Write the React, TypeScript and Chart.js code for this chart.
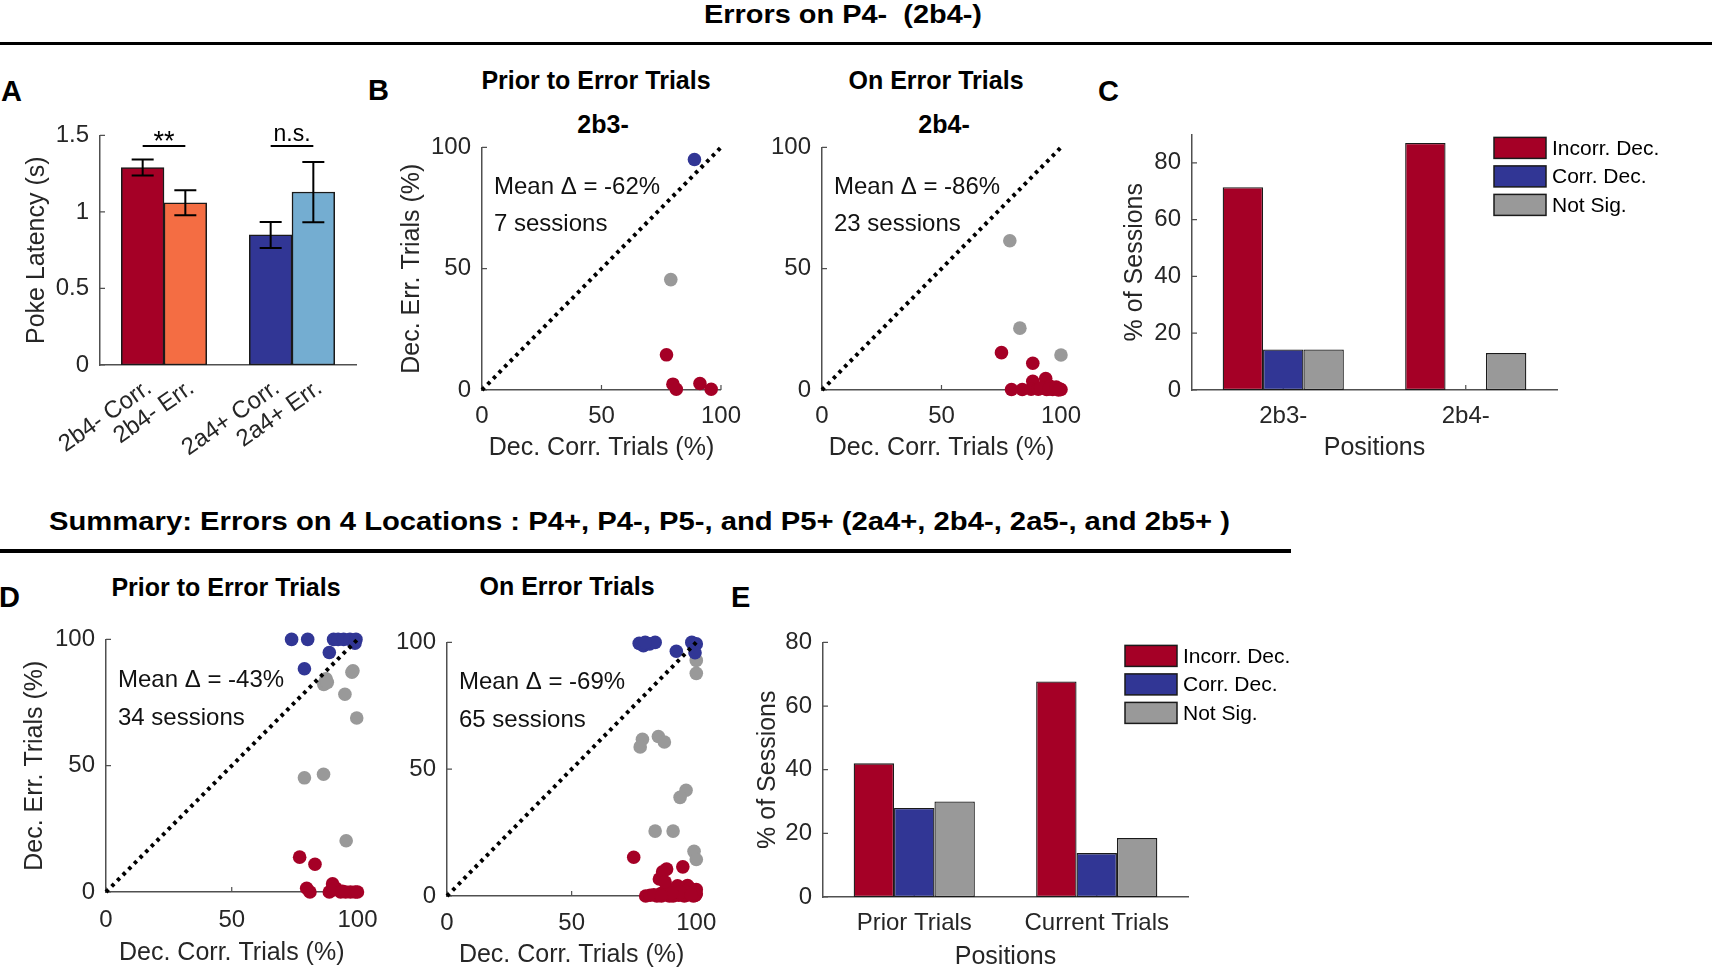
import React, { useEffect, useRef } from "react";
import { Chart, registerables } from "chart.js";

Chart.register(...registerables);

const FONT = '"Liberation Sans", Arial, Helvetica, sans-serif';
Chart.defaults.font.family = FONT;
Chart.defaults.color = "#262626";

const RED = "#A50026";
const ORANGE = "#F46D43";
const BLUE = "#313695";
const LIGHT_BLUE = "#74ADD1";
const GRAY = "#999999";
const AXIS = "#505050";
const INK = "#262626";
const EDGE = "#1a1a1a";

const TICK_SIZE = 24;
const LABEL_SIZE = 25;

// ---------------- Panel A: poke latency ----------------
const aGroups = ["2b4-", "2a4+"];
const aConditions = ["Corr.", "Err."];
const aCorrMean = [1.29, 0.85];
const aErrMean = [1.06, 1.13];
const aCorrSem = [0.052, 0.085];
const aErrSem = [0.082, 0.197];
const aSigLabels = ["**", "n.s."];
const aSigLevel = [1.43, 1.43];

// ---------------- Panel B: scatter (x = Dec. Corr., y = Dec. Err.) ----------------
const bTitles = ["2b3-", "2b4-"];
const bMeanDelta = [-62, -86];
const bSessions = [7, 23];
const bPriorIncorr = [[77.2, 14.5], [79.9, 2.4], [81.3, 0.3], [91.2, 2.7], [95.9, 0.3]];
const bPriorCorr = [[88.9, 95.0]];
const bPriorNotSig = [[79.0, 45.5]];
const bOnIncorr = [
  [75.1, 15.4], [88.2, 11.0], [79.3, 0.2], [83.8, 0.2], [88.2, 3.6], [87.5, 0.3], [90.5, 0.3],
  [93.6, 4.7], [92.5, 1.0], [94.0, 0.2], [95.5, 1.5], [96.5, 0.2], [97.5, 0.8], [98.6, 0.3],
  [99.5, 0.4], [100, 0.2], [91.5, 0.8], [95.0, 0.4], [98.0, 1.2], [99.0, 0.0],
];
const bOnCorr: number[][] = [];
const bOnNotSig = [[78.6, 61.5], [82.8, 25.5], [100, 14.4]];

// ---------------- Panel C ----------------
const cPositions = ["2b3-", "2b4-"];
const cIncorr = [71.4, 87.0];
const cCorr = [14.3, 0];
const cNotSig = [14.3, 13.0];

// ---------------- Panel D: summary scatter ----------------
const dMeanDelta = [-43, -69];
const dSessions = [34, 65];
const dPriorIncorr = [
  [77.0, 13.8], [83.1, 11.0], [79.8, 1.5], [81.1, 0], [88.8, 0], [90.1, 3.2], [91.4, 1.5],
  [93.3, 0], [95.3, 0], [97.2, 0], [99.1, 0], [100, 0], [89.5, 0.5], [94.0, 0.3],
];
const dPriorCorr = [
  [73.8, 100], [80.2, 100], [78.9, 88.4], [88.8, 94.8], [90.5, 100], [92.3, 100], [94.5, 100],
  [97.0, 100], [99.4, 100], [99.0, 98.5],
];
const dPriorNotSig = [
  [87.5, 84.4], [86.6, 82.2], [98.2, 87.6], [95.0, 78.3], [99.7, 68.9], [78.9, 45.2], [86.5, 46.6],
  [95.5, 20.3], [88.0, 83.0], [97.8, 87.0],
];
const dOnIncorr = [
  [74.9, 15.3], [85.2, 6.7], [88.1, 10.6], [86.5, 9.5], [94.6, 11.5], [79.7, 0], [81.5, 0.3],
  [84.2, 0], [85.5, 0.8], [86.8, 1.5], [88.7, 2.8], [88.0, 0.4], [89.5, 1.8], [90.7, 0],
  [91.3, 0.9], [92.2, 2.0], [93.0, 0.3], [93.9, 2.8], [94.8, 1.2], [95.2, 0], [95.8, 3.5],
  [96.5, 4.1], [97.0, 0.6], [97.8, 2.2], [98.4, 0.9], [99.0, 1.8], [99.5, 0.2], [100, 0.9],
  [100, 2.5], [87.5, 5.5], [92.5, 4.0], [96.0, 0.3], [98.8, 0], [91.8, 0.5], [94.2, 0.5],
  [89.2, 0], [83.0, 0.5], [97.5, 3.0], [95.5, 1.8], [93.5, 1.5], [99.8, 0.5], [90.2, 1.2],
  [86.0, 0], [98.0, 0.5],
];
const dOnCorr = [
  [77.1, 99.6], [78.8, 98.7], [81.3, 99.4], [83.5, 100], [92.0, 96.5], [98.2, 100], [100, 99.4],
  [99.5, 95.9], [79.5, 100],
];
const dOnNotSig = [
  [100, 92.9], [100, 87.8], [78.4, 61.8], [77.5, 58.8], [84.8, 62.9], [87.2, 60.7], [95.9, 41.7],
  [93.5, 38.9], [83.5, 25.6], [90.7, 25.6], [99.1, 17.6], [100, 14.4],
];

// ---------------- Panel E ----------------
const ePositions = ["Prior Trials", "Current Trials"];
const eIncorr = [42.0, 67.7];
const eCorr = [28.0, 13.8];
const eNotSig = [30.0, 18.5];

const legendLabels = ["Incorr. Dec.", "Corr. Dec.", "Not Sig."];
const unityLine = [0, 100];

// ---------------- layout helpers ----------------
type Frame = { L: number; T: number; R: number; B: number; yW: number; xH: number; padTop: number; padRight: number };

function canvasBox(f: Frame) {
  return {
    left: f.L - f.yW,
    top: f.T - f.padTop,
    width: f.R - f.L + f.yW + f.padRight,
    height: f.B - f.T + f.padTop + f.xH,
  };
}

const frameA: Frame = { L: 100, T: 130, R: 356, B: 365, yW: 100, xH: 100, padTop: 20, padRight: 20 };
const frameB1: Frame = { L: 482, T: 142, R: 728, B: 390, yW: 90, xH: 73, padTop: 20, padRight: 25 };
const frameB2: Frame = { L: 822, T: 142, R: 1068, B: 390, yW: 80, xH: 73, padTop: 20, padRight: 25 };
const frameC: Frame = { L: 1192, T: 129, R: 1557, B: 390, yW: 80, xH: 73, padTop: 20, padRight: 155 };
const frameD1: Frame = { L: 106, T: 634, R: 366, B: 892, yW: 106, xH: 76, padTop: 20, padRight: 25 };
const frameD2: Frame = { L: 447, T: 637, R: 704, B: 896, yW: 80, xH: 74, padTop: 20, padRight: 25 };
const frameE: Frame = { L: 823, T: 637, R: 1188, B: 897, yW: 80, xH: 75, padTop: 20, padRight: 110 };

function baseOptions(f: Frame) {
  return {
    responsive: false,
    animation: false,
    devicePixelRatio: 1,
    events: [],
    layout: { padding: { left: 0, top: f.padTop, right: f.padRight, bottom: 0 } },
    plugins: { legend: { display: false }, tooltip: { enabled: false }, title: { display: false } },
  };
}

function yAxis(f: Frame, min: number, max: number, step: number, title?: string, titleX?: number) {
  const lh = LABEL_SIZE * 1.2;
  const pad = titleX === undefined ? 0 : Math.max(0, titleX - (f.L - f.yW) - lh / 2);
  return {
    type: "linear",
    position: "left",
    min,
    max,
    ticks: {
      stepSize: step,
      includeBounds: false,
      padding: 11,
      font: { size: TICK_SIZE },
      color: INK,
      callback: (v: any) => String(Math.round(Number(v) * 1000) / 1000),
    },
    grid: { display: false, drawTicks: false },
    border: { display: true, color: AXIS, width: 1.5 },
    title: {
      display: !!title,
      text: title || "",
      font: { size: LABEL_SIZE },
      color: INK,
      padding: { top: pad, bottom: 0 },
    },
    afterFit: (s: any) => {
      s.width = f.yW;
    },
  };
}

function xTitle(text?: string) {
  return { display: !!text, text: text || "", font: { size: LABEL_SIZE }, color: INK, padding: { top: 0, bottom: 0 } };
}

// ---------------- plugins ----------------
function inwardTicksPlugin(len: number, withX = true) {
  return {
    id: "inwardTicks",
    beforeDatasetsDraw(chart: any) {
      const { ctx, chartArea, scales } = chart;
      const xs = scales.x;
      const ys = scales.y;
      ctx.save();
      ctx.strokeStyle = AXIS;
      ctx.lineWidth = 1.2;
      ctx.beginPath();
      if (withX) {
        xs.ticks.forEach((_t: any, i: number) => {
          const p = xs.getPixelForTick(i);
          ctx.moveTo(p, chartArea.bottom);
          ctx.lineTo(p, chartArea.bottom - len);
        });
      }
      ys.ticks.forEach((_t: any, i: number) => {
        const p = ys.getPixelForTick(i);
        ctx.moveTo(chartArea.left, p);
        ctx.lineTo(chartArea.left + len, p);
      });
      ctx.stroke();
      ctx.restore();
    },
  };
}

function noteTextPlugin(lines: string[], dx: number, dys: number[]) {
  return {
    id: "noteText",
    afterDatasetsDraw(chart: any) {
      const { ctx, chartArea } = chart;
      ctx.save();
      ctx.font = `${TICK_SIZE}px ${FONT}`;
      ctx.fillStyle = "#111";
      ctx.textAlign = "left";
      ctx.textBaseline = "middle";
      lines.forEach((t, i) => ctx.fillText(t, chartArea.left + dx, chartArea.top + dys[i]));
      ctx.restore();
    },
  };
}

function boxLegendPlugin(dx: number, dy: number, rowH: number, boxW: number, boxH: number, gap: number) {
  return {
    id: "boxLegend",
    afterDraw(chart: any) {
      const { ctx, chartArea } = chart;
      ctx.save();
      ctx.font = `21px ${FONT}`;
      ctx.textAlign = "left";
      ctx.textBaseline = "middle";
      chart.data.datasets.forEach((ds: any, i: number) => {
        const x = chartArea.left + dx;
        const y = chartArea.top + dy + i * rowH;
        ctx.fillStyle = ds.backgroundColor;
        ctx.fillRect(x, y, boxW, boxH);
        ctx.strokeStyle = EDGE;
        ctx.lineWidth = 1.5;
        ctx.strokeRect(x, y, boxW, boxH);
        ctx.fillStyle = "#000";
        ctx.fillText(ds.label, x + boxW + gap, y + boxH / 2 + 1);
      });
      ctx.restore();
    },
  };
}

// ---------------- chart builders ----------------
const aBarX: number[] = [];
const aBarY: number[] = [];
const aBarErr: number[] = [];
const aTickLabels: string[] = [];
aGroups.forEach((g, gi) => {
  aConditions.forEach((c, ci) => {
    aBarX.push(gi + 1 + (ci - 0.5) / 3);
    aBarY.push(ci === 0 ? aCorrMean[gi] : aErrMean[gi]);
    aBarErr.push(ci === 0 ? aCorrSem[gi] : aErrSem[gi]);
    aTickLabels.push(`${g} ${c}`);
  });
});
const aColors = [RED, ORANGE, BLUE, LIGHT_BLUE];
// rotated labels hang from their top-right corner (as in the source), so nudge the anchor right
const aLabelNudge = 0.05;

function makeA() {
  const f = frameA;
  const errorBars = {
    id: "errorBars",
    afterDatasetsDraw(chart: any) {
      const meta = chart.getDatasetMeta(0);
      const ys = chart.scales.y;
      const ctx = chart.ctx;
      ctx.save();
      ctx.strokeStyle = "#000";
      ctx.lineWidth = 2;
      ctx.beginPath();
      meta.data.forEach((bar: any, i: number) => {
        const yTop = ys.getPixelForValue(aBarY[i] + aBarErr[i]);
        const yBot = ys.getPixelForValue(aBarY[i] - aBarErr[i]);
        ctx.moveTo(bar.x, yTop);
        ctx.lineTo(bar.x, yBot);
        ctx.moveTo(bar.x - 11, yTop);
        ctx.lineTo(bar.x + 11, yTop);
        ctx.moveTo(bar.x - 11, yBot);
        ctx.lineTo(bar.x + 11, yBot);
      });
      ctx.stroke();
      ctx.restore();
    },
  };
  const sigMarks = {
    id: "sigMarks",
    afterDatasetsDraw(chart: any) {
      const meta = chart.getDatasetMeta(0);
      const ys = chart.scales.y;
      const ctx = chart.ctx;
      ctx.save();
      ctx.strokeStyle = "#000";
      ctx.fillStyle = "#000";
      ctx.lineWidth = 2;
      ctx.textAlign = "center";
      ctx.textBaseline = "alphabetic";
      aSigLabels.forEach((lab, g) => {
        ctx.font = lab === "**" ? `27px ${FONT}` : `23px ${FONT}`;
        const x1 = meta.data[2 * g].x;
        const x2 = meta.data[2 * g + 1].x;
        const y = ys.getPixelForValue(aSigLevel[g]);
        ctx.beginPath();
        ctx.moveTo(x1, y);
        ctx.lineTo(x2, y);
        ctx.stroke();
        const m = ctx.measureText(lab);
        const lift = Math.max(0, -m.actualBoundingBoxDescent);
        ctx.fillText(lab, (x1 + x2) / 2, y - 5 + lift);
      });
      ctx.restore();
    },
  };
  return {
    type: "bar",
    data: {
      datasets: [
        {
          label: "Poke latency",
          data: aBarX.map((x, i) => ({ x, y: aBarY[i] })),
          backgroundColor: aColors,
          borderColor: EDGE,
          borderWidth: 1.5,
          borderSkipped: false,
          categoryPercentage: 1,
          barPercentage: 1,
        },
      ],
    },
    options: {
      ...baseOptions(f),
      scales: {
        x: {
          type: "linear",
          position: "bottom",
          min: 0.5,
          max: 2.5,
          offset: false,
          afterBuildTicks: (s: any) => {
            s.ticks = aBarX.map((v) => ({ value: v + aLabelNudge }));
          },
          ticks: {
            autoSkip: false,
            minRotation: 35,
            maxRotation: 35,
            padding: 9,
            font: { size: 24 },
            color: INK,
            callback: (_v: any, i: number) => aTickLabels[i],
          },
          grid: { display: false, drawTicks: false },
          border: { display: true, color: AXIS, width: 1.5 },
          afterFit: (s: any) => {
            s.height = f.xH;
          },
        },
        y: yAxis(f, 0, 1.5, 0.5, "Poke Latency (s)", 37),
      },
    },
    plugins: [inwardTicksPlugin(5, false), errorBars, sigMarks],
  };
}

function pts(a: number[][]) {
  return a.map(([x, y]) => ({ x, y }));
}

function makeScatter(
  f: Frame,
  incorr: number[][],
  corr: number[][],
  notSig: number[][],
  notes: string[],
  noteDys: number[],
  xPad: number,
  yTitle?: string,
  yTitleX?: number
) {
  const dot = (label: string, data: number[][], color: string, order: number) => ({
    type: "scatter",
    label,
    data: pts(data),
    backgroundColor: color,
    borderWidth: 0,
    pointRadius: 6.8,
    pointStyle: "circle",
    order,
    clip: false,
  });
  return {
    type: "scatter",
    data: {
      datasets: [
        {
          type: "line",
          label: "unity",
          data: unityLine.map((v) => ({ x: v, y: v })),
          borderColor: "#000",
          borderWidth: 4,
          borderDash: [3.5, 4.5],
          borderCapStyle: "butt",
          pointRadius: 0,
          fill: false,
          tension: 0,
          order: 0,
          clip: false,
        },
        dot(legendLabels[0], incorr, RED, 3),
        dot(legendLabels[1], corr, BLUE, 1),
        dot(legendLabels[2], notSig, GRAY, 2),
      ],
    },
    options: {
      ...baseOptions(f),
      scales: {
        x: {
          type: "linear",
          position: "bottom",
          min: 0,
          max: 100,
          ticks: { stepSize: 50, padding: xPad, maxRotation: 0, font: { size: TICK_SIZE }, color: INK },
          grid: { display: false, drawTicks: false },
          border: { display: true, color: AXIS, width: 1.5 },
          title: xTitle("Dec. Corr. Trials (%)"),
          afterFit: (s: any) => {
            s.height = f.xH;
          },
        },
        y: yAxis(f, 0, 100, 50, yTitle, yTitleX),
      },
    },
    plugins: [inwardTicksPlugin(5), noteTextPlugin(notes, 12, noteDys)],
  };
}

function makeGroupedBars(
  f: Frame,
  labels: string[],
  incorr: number[],
  corr: number[],
  notSig: number[],
  yMax: number,
  xPad: number,
  yTitleX: number
) {
  const ds = (label: string, data: number[], color: string) => ({
    label,
    data,
    backgroundColor: color,
    borderColor: EDGE,
    borderWidth: 1.3,
    borderSkipped: false,
    categoryPercentage: 0.664,
    barPercentage: 1,
  });
  return {
    type: "bar",
    data: {
      labels,
      datasets: [ds(legendLabels[0], incorr, RED), ds(legendLabels[1], corr, BLUE), ds(legendLabels[2], notSig, GRAY)],
    },
    options: {
      ...baseOptions(f),
      scales: {
        x: {
          type: "category",
          position: "bottom",
          offset: true,
          ticks: { padding: xPad, maxRotation: 0, font: { size: TICK_SIZE }, color: INK },
          grid: { display: false, drawTicks: false, offset: true },
          border: { display: true, color: AXIS, width: 1.5 },
          title: xTitle("Positions"),
          afterFit: (s: any) => {
            s.height = f.xH;
          },
        },
        y: yAxis(f, 0, yMax, 20, "% of Sessions", yTitleX),
      },
    },
    plugins: [inwardTicksPlugin(5), boxLegendPlugin(302, 3, 28.5, 52, 21, 6)],
  };
}

const noteLines = (delta: number, n: number) => [`Mean \u0394 = ${delta}%`, `${n} sessions`];

// ---------------- React components ----------------
function ChartCanvas({ frame, make }: { frame: Frame; make: () => any }) {
  const ref = useRef<HTMLCanvasElement>(null);
  const box = canvasBox(frame);
  useEffect(() => {
    const chart = new Chart(ref.current as HTMLCanvasElement, make());
    return () => chart.destroy();
  }, []);
  return (
    <canvas
      ref={ref}
      width={box.width}
      height={box.height}
      style={{ position: "absolute", left: box.left, top: box.top, width: box.width, height: box.height }}
    />
  );
}

function Label({
  x,
  baseline,
  size,
  bold,
  center,
  children,
}: {
  x: number;
  baseline: number;
  size: number;
  bold?: boolean;
  center?: boolean;
  children: any;
}) {
  const style: any = {
    position: "absolute",
    top: baseline - 0.8465 * size,
    fontSize: size,
    lineHeight: `${size}px`,
    fontWeight: bold ? 700 : 400,
    whiteSpace: "pre",
    fontFamily: FONT,
    color: "#000",
  };
  if (center) {
    style.left = x - 400;
    style.width = 800;
    style.textAlign = "center";
  } else {
    style.left = x;
  }
  return <div style={style}>{children}</div>;
}

let measureCtx: CanvasRenderingContext2D | null = null;
function textWidth(text: string, font: string) {
  if (!measureCtx) measureCtx = document.createElement("canvas").getContext("2d");
  (measureCtx as CanvasRenderingContext2D).font = font;
  return (measureCtx as CanvasRenderingContext2D).measureText(text).width;
}

function FitHeading({ x, baseline, size, width, text }: { x: number; baseline: number; size: number; width: number; text: string }) {
  const natural = textWidth(text, `bold ${size}px ${FONT}`);
  const k = natural > 0 ? width / natural : 1;
  return (
    <div
      style={{
        position: "absolute",
        left: x,
        top: baseline - 0.8465 * size,
        fontSize: size,
        lineHeight: `${size}px`,
        fontWeight: 700,
        whiteSpace: "pre",
        fontFamily: FONT,
        color: "#000",
        transform: `scaleX(${k})`,
        transformOrigin: "left top",
      }}
    >
      {text}
    </div>
  );
}

export default function App() {
  return (
    <div
      style={{
        position: "absolute",
        left: 0,
        top: 0,
        width: 1712,
        height: 970,
        overflow: "hidden",
        background: "#fff",
        fontFamily: FONT,
      }}
    >
      <FitHeading x={704} baseline={23} size={26} width={278} text={"Errors on P4-  (2b4-)"} />
      <div style={{ position: "absolute", left: 0, top: 42, width: 1712, height: 3, background: "#000" }} />

      <FitHeading
        x={49}
        baseline={530}
        size={26}
        width={1181}
        text={"Summary: Errors on 4 Locations : P4+, P4-, P5-, and P5+ (2a4+, 2b4-, 2a5-, and 2b5+ )"}
      />
      <div style={{ position: "absolute", left: 0, top: 549, width: 1291, height: 4, background: "#000" }} />

      <Label x={1} baseline={102} size={29} bold>A</Label>
      <Label x={368} baseline={101} size={29} bold>B</Label>
      <Label x={1098} baseline={102} size={29} bold>C</Label>
      <Label x={-1} baseline={608} size={29} bold>D</Label>
      <Label x={731} baseline={608} size={29} bold>E</Label>

      <Label x={596} baseline={89} size={25} bold center>Prior to Error Trials</Label>
      <Label x={603} baseline={133} size={25} bold center>{bTitles[0]}</Label>
      <Label x={936} baseline={89} size={25} bold center>On Error Trials</Label>
      <Label x={944} baseline={133} size={25} bold center>{bTitles[1]}</Label>
      <Label x={226} baseline={596} size={25} bold center>Prior to Error Trials</Label>
      <Label x={567} baseline={595} size={25} bold center>On Error Trials</Label>

      <ChartCanvas frame={frameA} make={makeA} />
      <ChartCanvas
        frame={frameB1}
        make={() =>
          makeScatter(frameB1, bPriorIncorr, bPriorCorr, bPriorNotSig, noteLines(bMeanDelta[0], bSessions[0]), [40, 77], 12, "Dec. Err. Trials (%)", 412)
        }
      />
      <ChartCanvas
        frame={frameB2}
        make={() => makeScatter(frameB2, bOnIncorr, bOnCorr, bOnNotSig, noteLines(bMeanDelta[1], bSessions[1]), [40, 77], 12)}
      />
      <ChartCanvas frame={frameC} make={() => makeGroupedBars(frameC, cPositions, cIncorr, cCorr, cNotSig, 90, 12, 1135)} />
      <ChartCanvas
        frame={frameD1}
        make={() =>
          makeScatter(frameD1, dPriorIncorr, dPriorCorr, dPriorNotSig, noteLines(dMeanDelta[0], dSessions[0]), [41, 79], 13.5, "Dec. Err. Trials (%)", 35)
        }
      />
      <ChartCanvas
        frame={frameD2}
        make={() => makeScatter(frameD2, dOnIncorr, dOnCorr, dOnNotSig, noteLines(dMeanDelta[1], dSessions[1]), [40, 78], 12.7)}
      />
      <ChartCanvas frame={frameE} make={() => makeGroupedBars(frameE, ePositions, eIncorr, eCorr, eNotSig, 80, 12, 768)} />
    </div>
  );
}
